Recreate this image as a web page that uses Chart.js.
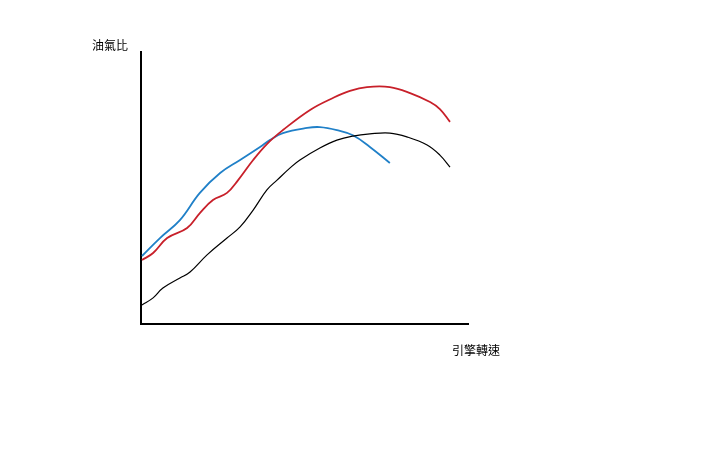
<!DOCTYPE html>
<html>
<head>
<meta charset="utf-8">
<script src="https://cdn.jsdelivr.net/npm/chart.js@4/dist/chart.umd.min.js"></script>
<style>
  html, body { margin: 0; padding: 0; background: #fff; width: 720px; height: 450px; overflow: hidden; }
  #wrap { position: relative; width: 720px; height: 450px; }
  canvas { position: absolute; left: 0; top: 0; }
  .lbl { position: absolute; font-family: "Noto Sans CJK TC", "Noto Sans CJK SC", sans-serif; font-size: 12px; color: #000; line-height: 14px; white-space: nowrap; }
</style>
</head>
<body>
<div id="wrap">
  <canvas id="c" width="720" height="450"></canvas>
  <div class="lbl" id="ylab" style="left:92px; top:38px;">油氣比</div>
  <div class="lbl" id="xlab" style="left:452px; top:343px;">引擎轉速</div>
</div>
<script>
// Axis labels
const yAxisLabel = "油氣比";
const xAxisLabel = "引擎轉速";

// Black curve, arbitrary units 0-100
const blackX = [0.3, 3.7, 6.7, 11.9, 15.0, 20.2, 26.3, 30.3, 34.3, 38.5, 41.6, 45.6, 48.6, 54.7, 59.9, 64.8, 70.0, 76.1, 81.3, 87.5, 91.4, 94.5];
const blackY = [7.0, 9.6, 13.2, 16.9, 19.1, 25.4, 31.6, 35.7, 41.9, 49.3, 52.9, 57.4, 60.3, 64.7, 67.6, 69.1, 69.9, 70.2, 68.8, 65.8, 62.1, 57.7];

// Red curve
const redX = [0.3, 3.7, 8.0, 14.1, 18.0, 22.0, 26.3, 29.7, 34.3, 38.8, 43.4, 51.7, 58.7, 63.9, 69.1, 76.1, 82.3, 88.4, 91.4, 94.5];
const redY = [23.5, 26.1, 31.6, 35.3, 40.8, 45.6, 48.2, 52.9, 60.3, 66.5, 71.3, 78.7, 83.1, 85.7, 87.1, 87.1, 84.9, 81.6, 79.0, 74.3];

// Blue curve
const blueX = [0.3, 5.8, 11.9, 18.0, 24.2, 30.3, 36.4, 39.4, 43.4, 50.8, 54.7, 59.9, 64.8, 70.0, 76.1];
const blueY = [25.0, 31.6, 38.2, 48.2, 55.5, 60.3, 65.1, 67.6, 70.2, 72.1, 72.4, 71.3, 69.4, 65.1, 59.2];

function pts(xs, ys) { return xs.map((x, i) => ({ x: x, y: ys[i] })); }

document.getElementById('ylab').textContent = yAxisLabel;
document.getElementById('xlab').textContent = xAxisLabel;

const common = { pointRadius: 0, tension: 0.4, fill: false };

new Chart(document.getElementById('c'), {
  type: 'line',
  data: {
    datasets: [
      Object.assign({ label: 'black', data: pts(blackX, blackY), borderColor: '#000000', borderWidth: 1.2 }, common),
      Object.assign({ label: 'red', data: pts(redX, redY), borderColor: '#c8202a', borderWidth: 1.8 }, common),
      Object.assign({ label: 'blue', data: pts(blueX, blueY), borderColor: '#2080c8', borderWidth: 1.8 }, common)
    ]
  },
  options: {
    responsive: false,
    animation: false,
    events: [],
    layout: { padding: { left: 141, right: 252, top: 52, bottom: 126 } },
    plugins: { legend: { display: false }, tooltip: { enabled: false } },
    scales: {
      x: {
        type: 'linear', min: 0, max: 100,
        ticks: { display: false },
        grid: { display: false, drawTicks: false },
        border: { display: true, color: '#000', width: 2 }
      },
      y: {
        type: 'linear', min: 0, max: 100,
        ticks: { display: false },
        grid: { display: false, drawTicks: false },
        border: { display: true, color: '#000', width: 2 }
      }
    }
  }
});
</script>
</body>
</html>
